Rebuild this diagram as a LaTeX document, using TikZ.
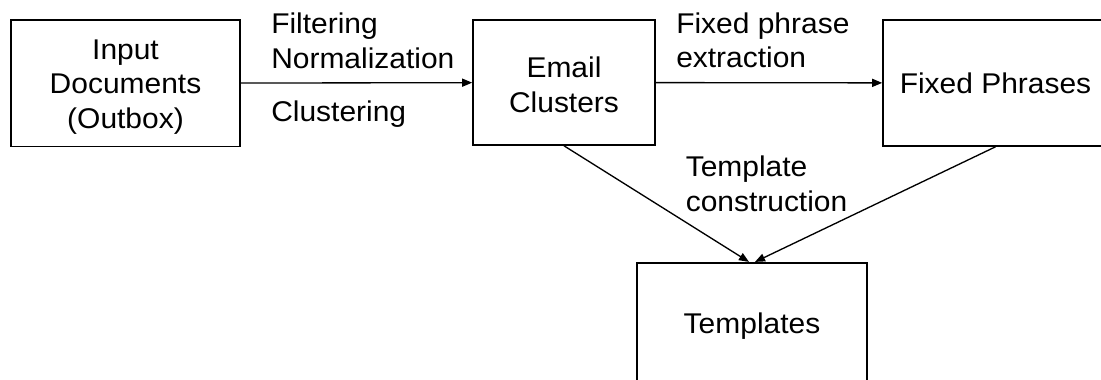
\documentclass[tikz,border=0pt]{standalone}
\usepackage{fontspec}
\setmainfont{Liberation Sans}[FakeStretch=1.05]
\usetikzlibrary{arrows.meta,calc}
% struts that fix the vertical extent of multi-line box texts
\newcommand{\upstrut}[1]{\rule{0pt}{#1}}
\newcommand{\downstrut}[1]{\rule[-#1]{0pt}{#1}}
\begin{document}
\begin{tikzpicture}[x=0.75pt,y=-0.75pt,
  every node/.style={font=\fontsize{21.4pt}{26pt}\selectfont, text=black},
  stage/.style={draw=black, line width=1.2pt, inner sep=0pt, align=center},
  lbl/.style={inner sep=0pt, anchor=base west},
  arr/.style={draw=black, line width=1pt, -{Triangle[length=7.5pt,width=6pt]}}]
\useasboundingbox (0,0) rectangle (1101,379);
\clip (0,0) rectangle (1101,379);

% processing stages
\node[stage, minimum width=171.75pt, minimum height=94.9pt] (inp) at (125.5,83.25)
  {\upstrut{22pt}Input\\Documents\\(Outbox)\downstrut{6pt}};
\node[stage, minimum width=136.5pt, minimum height=93.75pt] (ec) at (564,82.5)
  {\upstrut{21.5pt}Email\\Clusters\downstrut{3pt}};
\node[stage, minimum width=168.75pt, minimum height=94.5pt, text depth=0pt] (fp) at (995.5,83)
  {Fixed Phrases};
\node[stage, minimum width=172.5pt, minimum height=90pt, text depth=0pt] (tp) at (752,322.7)
  {Templates};

% connectors
\draw[arr] (inp) -- (ec);
\draw[arr] (ec) -- (fp);
\draw[arr] (ec.south) -- ($(tp.north)+(-3,0)$);
\draw[arr] (fp.south) -- ($(tp.north)+(3,0)$);

% step labels
\node[lbl] (f1) at (271,33.3) {Filtering};
\node[lbl] (f2) at (271,68.3) {Normalization};
\node[lbl] (f3) at (271,121.7) {Clustering};
\node[lbl] (x1) at (676,33.3) {Fixed phrase};
\node[lbl] (x2) at (676,67) {extraction};
\node[lbl] (t1) at (685.5,176.7) {Template};
\node[lbl] (t2) at (685.5,211.7) {construction};
\end{tikzpicture}
\end{document}
